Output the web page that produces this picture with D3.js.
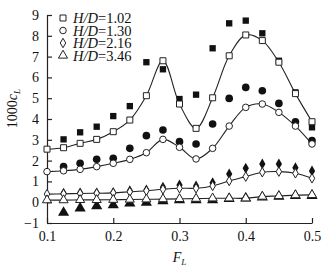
<!DOCTYPE html>
<html>
<head>
<meta charset="utf-8">
<script src="https://cdn.jsdelivr.net/npm/d3@7"></script>
<style>
  body { margin: 0; background: #fff; }
  svg text { font-family: "Liberation Serif", "Times New Roman", serif; fill: #111; }
</style>
</head>
<body>
<div id="chart"></div>
<script>
// F_L positions of the fitted (open) points and of the measured (filled) points
const flFit = [0.1, 0.125, 0.15, 0.175, 0.2, 0.225, 0.25, 0.275, 0.3, 0.325, 0.35, 0.375, 0.4, 0.425, 0.45, 0.475, 0.5];
const flExp = [0.125, 0.15, 0.175, 0.2, 0.225, 0.25, 0.275, 0.3, 0.325, 0.35, 0.375, 0.4, 0.425, 0.45, 0.475, 0.5];

// open markers (with line)
const fit102 = [2.55, 2.62, 2.83, 3.02, 3.39, 3.95, 5.12, 6.8, 4.72, 3.55, 5.02, 7.04, 8.04, 7.77, 6.73, 5.22, 3.87];
const fit130 = [1.47, 1.51, 1.58, 1.71, 1.87, 2.06, 2.38, 3.02, 2.64, 2.08, 2.59, 3.66, 4.56, 4.72, 4.32, 3.66, 2.8];
const fit216 = [0.39, 0.4, 0.42, 0.43, 0.45, 0.5, 0.55, 0.62, 0.67, 0.67, 0.78, 1.02, 1.23, 1.44, 1.47, 1.39, 1.15];
const fit346 = [0.1, 0.1, 0.11, 0.11, 0.12, 0.13, 0.14, 0.15, 0.16, 0.17, 0.19, 0.19, 0.19, 0.27, 0.3, 0.34, 0.35];

// filled markers
const exp102 = [3.02, 3.36, 3.63, 4.14, 4.62, 6.73, 6.39, 4.96, 5.17, 7.4, 8.6, 8.73, 8.12, 6.8, 5.28, 3.6];
const exp130 = [1.71, 1.87, 2.06, 2.11, 2.59, 3.2, 3.47, 2.91, 2.8, 3.76, 4.99, 5.52, 5.36, 4.75, 3.87, 2.96];
const exp216 = [0.43, 0.45, 0.45, 0.47, 0.55, 0.59, 0.72, 0.83, 0.78, 0.94, 1.36, 1.63, 1.84, 1.84, 1.66, 1.5];
const exp346 = [-0.5, -0.29, -0.18, -0.13, -0.05, -0.02, 0.06, 0.1, 0.1, 0.1, 0.17, 0.19, 0.24, 0.27, 0.31, 0.31];

const legendLabels = ["1.02", "1.30", "2.16", "3.46"];
const xTicks = [0.1, 0.2, 0.3, 0.4, 0.5];
const yTicks = [-1, 0, 1, 2, 3, 4, 5, 6, 7, 8, 9];

const series = [
  { shape: "square", fit: fit102, exp: exp102 },
  { shape: "circle", fit: fit130, exp: exp130 },
  { shape: "diamond", fit: fit216, exp: exp216 },
  { shape: "triangle", fit: fit346, exp: exp346 }
];

const width = 330, height = 270;
const margin = { top: 15, right: 18, bottom: 47, left: 47 };

const svg = d3.select("#chart").append("svg")
  .attr("width", width)
  .attr("height", height);

const xscale = d3.scaleLinear().domain([0.1, 0.5]).range([margin.left, width - margin.right]);
const yscale = d3.scaleLinear().domain([-1, 9]).range([height - margin.bottom, margin.top]);

function symbolPath(shape, filled) {
  let type, size;
  if (shape === "square") { type = d3.symbolSquare; size = filled ? 40 : 36; }
  else if (shape === "circle") { type = d3.symbolCircle; size = filled ? 46 : 34; }
  else if (shape === "diamond") { type = d3.symbolDiamond; size = filled ? 34 : 26; }
  else { type = d3.symbolTriangle; size = filled ? 54 : 36; }
  return d3.symbol().type(type).size(size)();
}

// axes
const xAxis = d3.axisBottom(xscale).tickValues(xTicks).tickSizeInner(-5).tickSizeOuter(0).tickPadding(8)
  .tickFormat(d3.format(".1f"));
const yAxis = d3.axisLeft(yscale).tickValues(yTicks).tickSizeInner(-5).tickSizeOuter(0).tickPadding(8)
  .tickFormat(d => d < 0 ? "\u2212" + Math.abs(d) : d);

const gx = svg.append("g")
  .attr("transform", `translate(0,${yscale(-1)})`)
  .call(xAxis);
const gy = svg.append("g")
  .attr("transform", `translate(${xscale(0.1)},0)`)
  .call(yAxis);

[gx, gy].forEach(g => {
  g.select(".domain").attr("stroke", "#222").attr("stroke-width", 1.2);
  g.selectAll(".tick line").attr("stroke", "#222").attr("stroke-width", 1.2);
  g.selectAll("text").attr("font-size", 14).attr("font-family", "Liberation Serif").attr("fill", "#111");
});

// curves through the open markers
const line = d3.line()
  .x((d, i) => xscale(flFit[i]))
  .y(d => yscale(d))
  .curve(d3.curveCatmullRom.alpha(0.5));

series.forEach(s => {
  svg.append("path")
    .attr("d", line(s.fit))
    .attr("fill", "none")
    .attr("stroke", "#222")
    .attr("stroke-width", 1.1);
});

// filled markers
series.forEach(s => {
  svg.append("g").selectAll("path")
    .data(s.exp)
    .join("path")
    .attr("d", symbolPath(s.shape, true))
    .attr("transform", (d, i) => `translate(${xscale(flExp[i])},${yscale(d)})`)
    .attr("fill", "#111");
});

// open markers
series.forEach(s => {
  svg.append("g").selectAll("path")
    .data(s.fit)
    .join("path")
    .attr("d", symbolPath(s.shape, false))
    .attr("transform", (d, i) => `translate(${xscale(flFit[i])},${yscale(d)})`)
    .attr("fill", "#fff")
    .attr("stroke", "#222")
    .attr("stroke-width", 1);
});

// legend (rows sit tight, as in the original)
const legend = svg.append("g").attr("transform", "translate(63,18)");
legendLabels.forEach((lab, i) => {
  const row = legend.append("g").attr("transform", `translate(0,${i * 12.5})`);
  row.append("path")
    .attr("d", symbolPath(series[i].shape, false))
    .attr("fill", "#fff")
    .attr("stroke", "#222")
    .attr("stroke-width", 1);
  const t = row.append("text")
    .attr("x", 10)
    .attr("y", 5)
    .attr("font-size", 14.5);
  t.append("tspan").attr("font-style", "italic").text("H/D");
  t.append("tspan").text("=" + lab);
});

// axis titles
const yl = svg.append("text")
  .attr("transform", `translate(17,${yscale(4.5)}) rotate(-90)`)
  .attr("text-anchor", "middle")
  .attr("font-size", 14);
yl.append("tspan").text("1000");
yl.append("tspan").attr("font-style", "italic").text("c");
yl.append("tspan").attr("font-style", "italic").attr("font-size", 9).attr("dy", 3).text("L");

const xl = svg.append("text")
  .attr("x", xscale(0.3))
  .attr("y", 262)
  .attr("text-anchor", "middle")
  .attr("font-size", 14);
xl.append("tspan").attr("font-style", "italic").text("F");
xl.append("tspan").attr("font-style", "italic").attr("font-size", 9).attr("dy", 3).text("L");
</script>
</body>
</html>
